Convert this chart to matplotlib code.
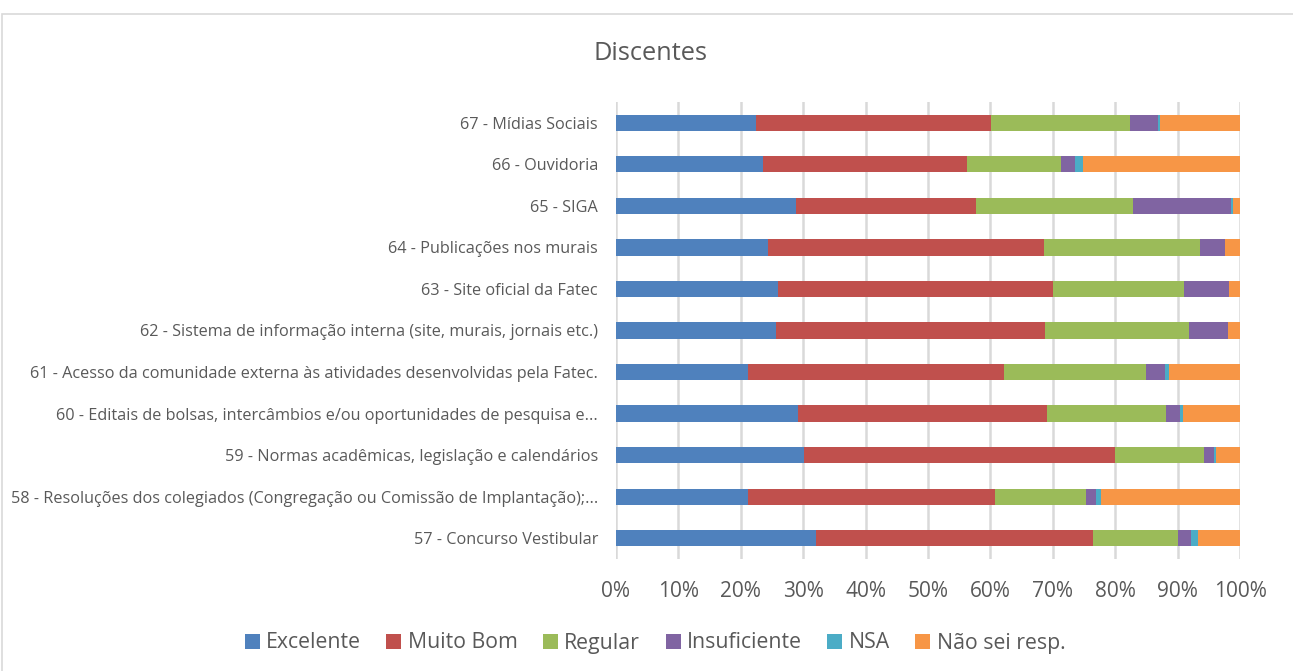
import numpy as np
from matplotlib import pyplot as plt
from matplotlib.patches import Rectangle

plt.rcParams['font.family'] = ['Open Sans', 'DejaVu Sans']

# bottom to top
categories = [
    '57 - Concurso Vestibular',
    '58 - Resoluções dos colegiados (Congregação ou Comissão de Implantação);...',
    '59 - Normas acadêmicas, legislação e calendários',
    '60 - Editais de bolsas, intercâmbios e/ou oportunidades de pesquisa e...',
    '61 - Acesso da comunidade externa às atividades desenvolvidas pela Fatec.',
    '62 - Sistema de informação interna (site, murais, jornais etc.)',
    '63 - Site oficial da Fatec',
    '64 - Publicações nos murais',
    '65 - SIGA',
    '66 - Ouvidoria',
    '67 - Mídias Sociais',
]

excelente = [32.1, 21.2, 30.2, 29.1, 21.2, 25.6, 25.9, 24.4, 28.8, 23.5, 22.4]
muito_bom = [44.4, 39.6, 49.7, 40.0, 41.0, 43.2, 44.1, 44.2, 28.9, 32.8, 37.7]
regular = [13.6, 14.5, 14.3, 19.0, 22.7, 23.1, 21.1, 25.0, 25.2, 15.0, 22.2]
insuficiente = [2.0, 1.7, 1.7, 2.3, 3.1, 6.1, 7.2, 4.0, 15.6, 2.2, 4.6]
nsa = [1.2, 0.8, 0.3, 0.5, 0.7, 0.0, 0.0, 0.0, 0.3, 1.4, 0.3]
nao_sei = [6.7, 22.2, 3.8, 9.1, 11.3, 2.0, 1.7, 2.4, 1.2, 25.1, 12.8]

series_names = ['Excelente', 'Muito Bom', 'Regular', 'Insuficiente', 'NSA', 'Não sei resp.']
series_colors = ['#4F81BD', '#C0504D', '#9BBB59', '#8064A2', '#4BACC6', '#F79646']

text_color = '#595959'

fig = plt.figure(figsize=(12.93, 6.71), dpi=100)
ax = fig.add_axes([616 / 1293, 1 - 559 / 671, 624 / 1293, 457 / 671])

# chart border
fig.patches.append(Rectangle((2 / 1293, -0.1), 1.2, 1 - 14 / 671 + 0.1,
                             transform=fig.transFigure, fill=False,
                             edgecolor='#d9d9d9', linewidth=1.2))

y = np.arange(len(categories))
all_series = [excelente, muito_bom, regular, insuficiente, nsa, nao_sei]
left = np.zeros(len(categories))
for vals, name, color in zip(all_series, series_names, series_colors):
    vals = np.array(vals)
    ax.barh(y, vals, left=left, height=0.39, color=color, label=name, zorder=3)
    left += vals

ax.set_xlim(0, 100)
ax.set_ylim(-0.5, len(categories) - 0.5)
ax.set_xticks(np.arange(0, 101, 10))
ax.set_xticklabels([f'{t}%' for t in range(0, 101, 10)])
ax.set_yticks(y)
ax.set_yticklabels(categories)
ax.tick_params(axis='x', length=0, pad=16, labelsize=15, labelcolor=text_color)
ax.tick_params(axis='y', length=0, pad=13, labelsize=11.7, labelcolor=text_color)
ax.grid(axis='x', color='#d9d9d9', linewidth=1.8, zorder=0)
for s in ax.spines.values():
    s.set_visible(False)

fig.text(650 / 1293, 1 - 53 / 671, 'Discentes', ha='center', va='center',
         fontsize=18.3, color=text_color)

handles, labels = ax.get_legend_handles_labels()
fig.legend(handles, labels, loc='center', bbox_to_anchor=(655 / 1293, 1 - 643 / 671),
           ncol=6, frameon=False, fontsize=15.3, labelcolor=text_color,
           handlelength=0.7, handleheight=0.7, handletextpad=0.3, columnspacing=1.2)

fig.savefig('out.png', dpi=100)
